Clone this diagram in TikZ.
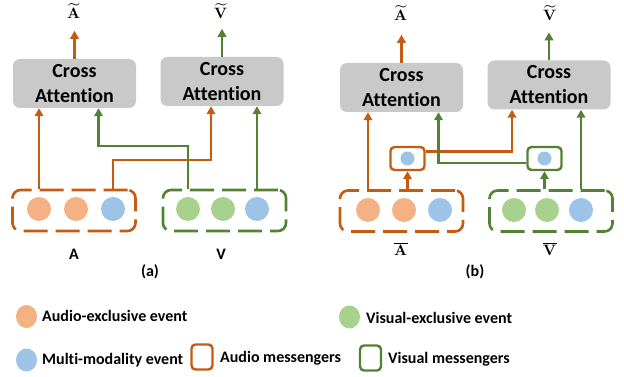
\documentclass[tikz,border=0pt]{standalone}
\usepackage{unicode-math}
\setmainfont{Carlito}[Ligatures=CommonOff]
\setmathfont{Latin Modern Math}
\usetikzlibrary{arrows.meta,positioning,shapes.geometric}

\definecolor{audioc}{HTML}{C55A11}
\definecolor{visualc}{HTML}{548235}
\definecolor{audiof}{HTML}{F4B183}
\definecolor{visualf}{HTML}{A9D18E}
\definecolor{multif}{HTML}{9DC3E6}
\definecolor{attgray}{HTML}{C9C9C9}

\tikzset{
    attbox/.style={fill=attgray, rounded corners=7pt, minimum width=123pt, minimum height=49pt,
        inner sep=0pt, align=center, font=\fontsize{20}{25}\selectfont\bfseries},
    evbox/.style={draw, line width=2.6pt, dash pattern=on 24pt off 8pt, rounded corners=8pt,
        minimum width=123pt, minimum height=41pt, inner sep=0pt},
    msgbox/.style={draw, line width=2.4pt, rounded corners=4pt, minimum width=34pt,
        minimum height=23pt, inner sep=0pt},
    ev/.style={circle, inner sep=0pt, minimum size=24pt},
    msgev/.style={circle, inner sep=0pt, minimum size=14pt, fill=multif},
    keyev/.style={ellipse, inner sep=0pt, minimum width=21pt, minimum height=23pt},
    aline/.style={audioc, line width=2.6pt, -{Triangle[length=8pt,width=8.5pt]}},
    vline/.style={visualc, line width=2.6pt, -{Triangle[length=8pt,width=8.5pt]}},
    lbl/.style={font=\fontsize{16}{18}\selectfont\bfseries},
    mlbl/.style={inner sep=0pt, font=\fontsize{15}{17}\selectfont},
    lgd/.style={anchor=west, inner sep=0pt, font=\fontsize{16}{18}\selectfont\bfseries}
}

\begin{document}
\begin{tikzpicture}[x=1pt, y=-1pt]
    \useasboundingbox (0,0) rectangle (624,377);

    % panel (a)
    \node[attbox] (attA) at (74.5,83.5) {Cross\\Attention};
    \node[attbox] (attV) at (222,81.5) {Cross\\Attention};
    \node[evbox, audioc] (evA) at (74,210.5) {};
    \node[evbox, visualc] (evV) at (224.5,210.5) {};
    \node[ev, fill=audiof] (a1) at (39,209) {};
    \node[ev, fill=audiof] (a2) at (76,209) {};
    \node[ev, fill=multif] (a3) at (113,209) {};
    \node[ev, fill=visualf] (v1) at (188,209) {};
    \node[ev, fill=visualf] (v2) at (223,209) {};
    \node[ev, fill=multif] (v3) at (257,209) {};
    \node[mlbl] (tA) at (74,11) {$\widetilde{\symbf{A}}$};
    \node[mlbl] (tV) at (221,11) {$\widetilde{\symbf{V}}$};
    \node[lbl] (lA) at (74,254) {A};
    \node[lbl] (lV) at (221,254) {V};
    \node[lbl] (capa) at (150,272) {(a)};
    \coordinate (aTurn) at (0,160);
    \coordinate (vTurn) at (0,146);

    \draw[aline] (attA.north) -- ++(0,-28);
    \draw[vline] (attV.north) -- ++(0,-28);
    \draw[aline] (a1 |- evA.north) -- (a1 |- attA.south);
    \draw[aline] (a3 |- evA.north) -- (a3 |- aTurn) -| ([xshift=-11pt]attV.south);
    \draw[vline] (v1 |- evV.north) -- (v1 |- vTurn) -| ([xshift=24pt]attA.south);
    \draw[vline] (v3 |- evV.north) -- (v3 |- attV.south);

    % panel (b)
    \node[attbox] (attbA) at (401.5,87.5) {Cross\\Attention};
    \node[attbox] (attbV) at (549,85) {Cross\\Attention};
    \node[evbox, audioc] (evbA) at (401.5,211) {};
    \node[evbox, visualc] (evbV) at (551,211) {};
    \node[ev, fill=audiof] (b1) at (368,210) {};
    \node[ev, fill=audiof] (b2) at (404,210) {};
    \node[ev, fill=multif] (b3) at (440,210) {};
    \node[ev, fill=visualf] (w1) at (514,210) {};
    \node[ev, fill=visualf] (w2) at (547,210) {};
    \node[ev, fill=multif] (w3) at (581,210) {};
    \node[msgbox, audioc] (msgA) at (407.5,158.5) {};
    \node[msgbox, visualc] (msgV) at (544.5,158.5) {};
    \node[msgev] (ma) at (msgA) {};
    \node[msgev] (mv) at (msgV) {};
    \node[mlbl] (tbA) at (401,13) {$\widetilde{\symbf{A}}$};
    \node[mlbl] (tbV) at (550,13) {$\widetilde{\symbf{V}}$};
    \node[mlbl] (lbA) at (401,249) {$\overline{\symbf{A}}$};
    \node[mlbl] (lbV) at (550,249) {$\overline{\symbf{V}}$};
    \node[lbl] (capb) at (475,272) {(b)};

    \draw[aline] (attbA.north) -- ++(0,-28);
    \draw[vline] (attbV.north) -- ++(0,-28);
    \draw[aline] (b1 |- evbA.north) -- (b1 |- attbA.south);
    \draw[aline] (msgA |- evbA.north) -- (msgA.south);
    \draw[aline] ([yshift=7pt]msgA.east) -| ([xshift=-37pt]attbV.south);
    \draw[vline] ([yshift=-4.5pt]msgV.west) -| ([xshift=37pt]attbA.south);
    \draw[vline] (msgV |- evbV.north) -- (msgV.south);
    \draw[vline] (w3 |- evbV.north) -- (w3 |- attbV.south);

    % legend
    \node[keyev, fill=audiof] (kA) at (26.5,316.5) {};
    \node[lgd] at (42,316) {Audio-exclusive event};
    \node[keyev, fill=visualf] (kV) at (349.5,317) {};
    \node[lgd] at (366,318) {Visual-exclusive event};
    \node[keyev, fill=multif] (kM) at (26.5,360) {};
    \node[lgd] at (42,360) {Multi-modality event};
    \node[msgbox, audioc, minimum width=21pt, minimum height=25pt] (kMA) at (202,357) {};
    \node[lgd] at (220,358) {Audio messengers};
    \node[msgbox, visualc, minimum width=21pt, minimum height=25pt] (kMV) at (370.5,358) {};
    \node[lgd] at (388,359) {Visual messengers};
\end{tikzpicture}
\end{document}
